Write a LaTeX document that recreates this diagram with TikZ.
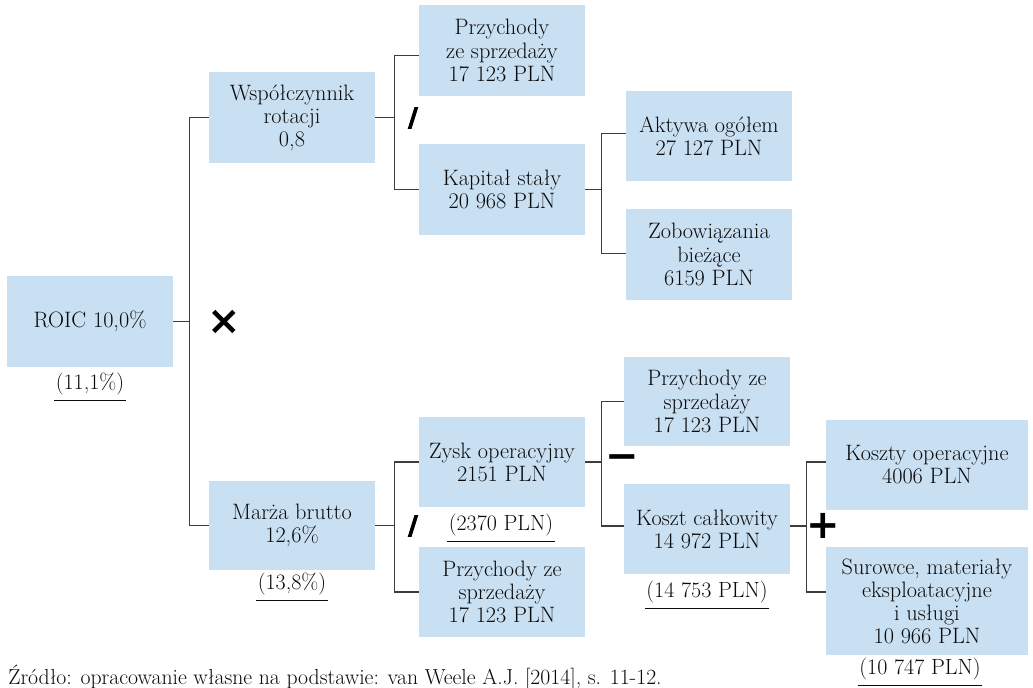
\documentclass[tikz,border=0pt]{standalone}
\usepackage{fontspec}
\newfontfamily\symfont{DejaVu Sans}
\newfontfamily\slashfont{DejaVu Sans}[FakeBold=4]
\definecolor{boxblue}{RGB}{201,223,242}
\definecolor{linegray}{RGB}{60,60,60}
\definecolor{txt}{RGB}{10,10,10}
\begin{document}
\begin{tikzpicture}[x=0.75pt,y=-0.75pt,
  every node/.style={text=txt},
  box/.style={fill=boxblue, draw=none, align=center, inner sep=0pt,
    font=\fontsize{16.7}{17.3}\selectfont, minimum width=124.5pt, minimum height=68pt},
  widebox/.style={box, minimum width=151.5pt},
  conn/.style={draw=linegray, line width=0.9pt},
  lbl/.style={anchor=base, inner sep=0pt, font=\fontsize{16.5}{17.3}\selectfont},
  uline/.style={draw=txt, line width=0.8pt},
  op/.style={inner sep=0pt, text=black, font=\symfont\bfseries\fontsize{30}{30}\selectfont},
  slash/.style={inner sep=0pt, text=black, font=\slashfont\bfseries\fontsize{19}{19}\selectfont}]
\useasboundingbox (0,0) rectangle (1033,688);

% boxes
\node[box] (roic) at (90,321.5) {ROIC 10,0\%};
\node[box] (wsp) at (292,117.5) {Współczynnik\\rotacji\\0,8};
\node[box, minimum height=67pt] (marza) at (292,525.5) {Marża brutto\\12,6\%};
\node[box] (p1) at (502,50.5) {Przychody\\ze sprzedaży\\17 123 PLN};
\node[box] (kap) at (502,189.5) {Kapitał stały\\20 968 PLN};
\node[box] (akt) at (709,136) {Aktywa ogółem\\27 127 PLN};
\node[box] (zob) at (709,254.5) {Zobowiązania\\bieżące\\6159 PLN};
\node[box] (zysk) at (502,462) {Zysk operacyjny\\2151 PLN};
\node[box] (p2) at (502,592) {Przychody ze\\sprzedaży\\17 123 PLN};
\node[box, minimum height=67pt] (p3) at (707,401.5) {Przychody ze\\sprzedaży\\17 123 PLN};
\node[box, minimum height=67.5pt] (koszt) at (707,529) {Koszt całkowity\\14 972 PLN};
\node[widebox, minimum height=67.5pt] (kop) at (927,465) {Koszty operacyjne\\4006 PLN};
\node[widebox, minimum height=81pt] (sur) at (927,601) {Surowce, materiały\\eksploatacyjne\\i usługi\\10 966 PLN};

% connectors
\draw[conn] (wsp.west) -- ++(-19,0) |- (roic.east);
\draw[conn] (marza.west) -- ++(-19,0) |- (roic.east);
\draw[conn] ([yshift=-4pt]p1.west) -- ++(-24,0) |- (wsp.east);
\draw[conn] (kap.west) -- ++(-24,0) |- (wsp.east);
\draw[conn] ([yshift=2pt]akt.west) -- ++(-24,0) |- (kap.east);
\draw[conn] ([yshift=1pt]zob.west) -- ++(-24,0) |- (kap.east);
\draw[conn] (zysk.west) -- ++(-24,0) |- (marza.east);
\draw[conn] (p2.west) -- ++(-24,0) |- (marza.east);
\draw[conn] (p3.west) -- ++(-22,0) |- (zysk.east);
\draw[conn] ([yshift=2.25pt]koszt.west) -- ++(-22,0) |- (zysk.east);
\draw[conn] ([yshift=2.25pt]kop.west) -- ++(-19,0) |- ([yshift=2.25pt]koszt.east);
\draw[conn] ([yshift=6.75pt]sur.west) -- ++(-19,0) |- ([yshift=2.25pt]koszt.east);

% operators
\node[op] (times) at (224,322) {×};
\node[slash] (div1) at (413,118) {/};
\node[slash] (div2) at (413,526) {/};
\node[op] (minus) at (622,462) {−};
\node[op] (plus) at (823,526) {+};

% previous-period labels
\node[lbl] (l1) at (90,389) {(11,1\%)};
\node[lbl] (l2) at (292,589) {(13,8\%)};
\node[lbl] (l3) at (501,530) {(2370 PLN)};
\node[lbl] (l4) at (707,597) {(14 753 PLN)};
\node[lbl] (l5) at (920,674) {(10 747 PLN)};
\foreach \n in {l1,l2,l3,l4,l5}
  \draw[uline] ([xshift=-1pt,yshift=-8.5pt]\n.base west) -- ([xshift=1pt,yshift=-8.5pt]\n.base east);

% source
\node[anchor=base west, inner sep=0pt, font=\fontsize{16.3}{17}\selectfont] (src) at (8,684)
  {Źródło: opracowanie własne na podstawie: van Weele A.J. [2014], s. 11-12.};
\end{tikzpicture}
\end{document}
